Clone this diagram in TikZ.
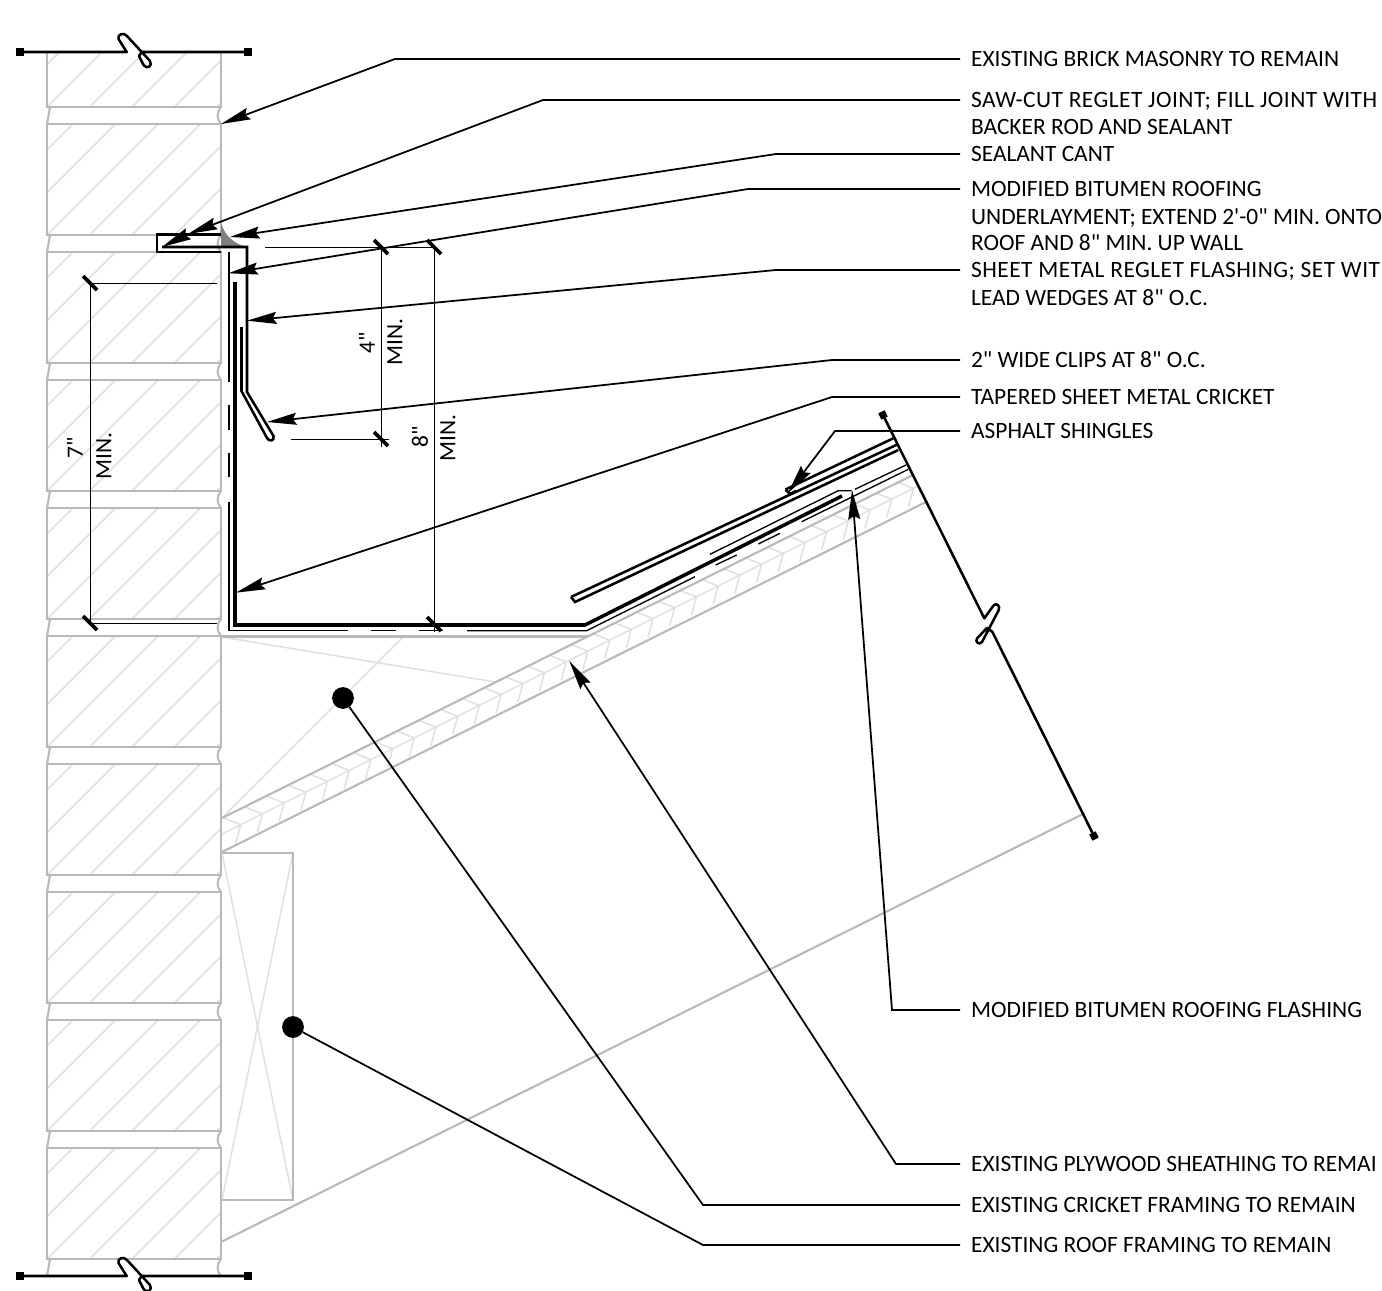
\documentclass[tikz,border=0pt]{standalone}
\usepackage{fontspec}
\newfontfamily\notefont{Carlito}
\newfontfamily\widefont[LetterSpace=2]{Carlito}
\usetikzlibrary{arrows.meta}
\definecolor{wallgrey}{HTML}{B9B9B9}
\definecolor{hatchgrey}{HTML}{E0E0E0}
\definecolor{sealgrey}{HTML}{808080}
\tikzset{
  callout/.style={anchor=west, inner xsep=15.6pt, inner ysep=0pt, text height=21pt, text depth=0pt,
    font=\notefont\fontsize{33.3}{35}\selectfont},
  widecallout/.style={callout, font=\widefont\fontsize{33.3}{35}\selectfont},
  dimtext/.style={rotate=90, inner sep=0pt, font=\notefont\fontsize{33.3}{35}\selectfont},
  leader/.style={line width=2.5pt, -{Stealth[length=42pt,width=17pt,inset=5pt]}},
  plainleader/.style={line width=2.5pt},
  wall/.style={wallgrey, line width=3pt},
  hatch/.style={hatchgrey, line width=2.2pt},
  dimline/.style={line width=1.4pt},
  dimtick/.style={line width=5.5pt},
  flash/.style={line width=3.6pt, line join=miter},
  heavy/.style={line width=5pt, line join=miter},
  thinline/.style={line width=1.9pt},
  breakline/.style={line width=3.6pt, line join=round},
  endmark/.style={fill=black, inner sep=0pt, minimum size=10pt},
  dot/.style={circle, fill=black, inner sep=0pt, minimum size=31pt}
}
\begin{document}
\begin{tikzpicture}[x=0.05cm, y=-0.05cm]
  \useasboundingbox (0,0) rectangle (1382,1291);
  \clip (0,0) rectangle (1382,1291);

  % Draw the brick courses
  \begin{scope}
    \clip (0,52) rectangle (300,1276);
    \foreach \b in {107,235,...,1259} {
      \begin{scope}
        \clip (47,\b-111) rectangle (221,\b);
        \foreach \k in {-3,...,4}
          \draw[hatch] ({47+42.5*\k},\b) -- ({247+42.5*\k},\b-200);
      \end{scope}
      \draw[wall] (47,\b-111) rectangle (221,\b);
      \draw[wall] (50,\b) -- (47,\b+17);
      \draw[wall] (221,\b) .. controls (216.5,\b+5) and (216.5,\b+12) .. (221,\b+17);
    }
  \end{scope}

  % Draw the cricket framing
  \draw[hatch] (222,637) -- (495,682);
  \draw[hatch] (403,637) -- (222,818);
  \draw[wall] (221,636.5) -- (588,636.5);

  % Draw the sheathing
  \begin{scope}
    \clip (222,818) -- (913,475) -- (926,502) -- (222,852) -- cycle;
    \draw[hatch] (935,477.5) -- (220,835);
    \foreach \k in {0,...,33}
      \draw[hatch] ({896.7-21.7*\k},{481.7+10.85*\k}) -- ({913.4-21.7*\k},{488.4+10.85*\k})
        -- ({908.4-21.7*\k},{506.7+10.85*\k});
  \end{scope}
  \draw[wall] (222,818) -- (913,475);
  \draw[wall] (222,852) -- (926,502);

  % Draw the roof framing and the block
  \draw[wall] (221,1242) -- (1085,813);
  \draw[hatch] (222,853) -- (293,1200);
  \draw[hatch] (293,853) -- (222,1200);
  \draw[wall] (221,853) -- (293,853) -- (293,1200) -- (221,1200);

  % Draw the sealant cant
  \fill[sealgrey] (221,223) .. controls (225,236) and (234,244) .. (247,247) -- (221,247) -- cycle;

  % Draw the reglet and the flashing
  \draw[flash] (221,234.5) -- (157,234.5) -- (157,252) -- (221,252);
  \draw[flash] (162,247) -- (247,247) -- (247,392) -- (273.5,436)
    .. controls (275,441) and (269,442) .. (267,438) -- (241.5,391) -- (241.5,327);

  % Draw the tapered cricket
  \draw[heavy] (235,282) -- (235,625) -- (585,625) -- (842,496);

  % Draw the underlayment
  \draw[thinline] (229,252) -- (229,381.7);
  \draw[thinline] (229,405) -- (229,430);
  \draw[thinline] (229,453) -- (229,477.3);
  \draw[thinline] (229,501.7) -- (229,630.7) -- (347.7,630.7);
  \draw[thinline] (371,630.7) -- (395.7,630.7);
  \draw[thinline] (419,630.7) -- (443,630.7);
  \draw[thinline] (467,630.7) -- (586.7,630.7) -- (695,576.7);
  \draw[thinline] (715.7,565) -- (736.7,555);
  \draw[thinline] (758.3,544) -- (780,533.3);
  \draw[thinline] (801.7,521.7) -- (908.3,469.3);
  \draw[thinline] (710,554.3) -- (838.3,490.7) -- (851.7,490.7);
  \draw[thinline] (855,489.3) -- (906,465);

  % Draw the shingles
  \draw[flash] (571,597) -- (575,602) -- (898.3,450);
  \draw[flash] (571,597) -- (897.7,444.3);
  \draw[flash] (785.5,489.5) -- (790,494) -- (796,491);
  \draw[flash] (785.5,489.5) -- (893.3,438.3);

  % Draw the break lines
  \foreach \y in {52,1276} {
    \node[endmark] (breakL\y) at (20,\y) {};
    \node[endmark] (breakR\y) at (248,\y) {};
    \draw[breakline] (breakL\y) -- (126.7,\y) -- (118.5,\y-13)
      .. controls (117,\y-18) and (124,\y-20) .. (127,\y-16) -- (150,\y+9)
      .. controls (153,\y+14) and (147,\y+18) .. (143.5,\y+13) -- (139,\y+4) -- (141.7,\y) -- (breakR\y);
  }
  \node[endmark, rotate=26] (breakA) at (883,415) {};
  \node[endmark, rotate=26] (breakB) at (1094,836) {};
  \draw[breakline] (breakA) -- (984.3,618.3) -- (993.5,605.5)
    .. controls (996,602) and (1001,606) .. (998.5,610.5) -- (982,642)
    .. controls (979.5,645.5) and (974.5,642) .. (977,638.5) -- (986.8,628) -- (992.3,631.7) -- (breakB);

  % Draw the dimensions
  \coordinate (sevenA) at (90,283);
  \coordinate (sevenB) at (90,623);
  \coordinate (fourA) at (381,247);
  \coordinate (fourB) at (381,439);
  \coordinate (eightA) at (434,247);
  \coordinate (eightB) at (434,624);
  \draw[dimline] (sevenA) -- (sevenB);
  \draw[dimline] (fourA) -- (381,447);
  \draw[dimline] (eightA) -- (434,632);
  \draw[dimline] (sevenA) -- (217,283);
  \draw[dimline] (sevenB) -- (217,623);
  \draw[dimline] (265,247) -- (eightA);
  \draw[dimline] (291,439) -- (389,439);
  \foreach \c in {sevenA,sevenB,fourA,fourB,eightA,eightB}
    \draw[dimtick] ([shift={(-7,-7)}]\c) -- ([shift={(7,7)}]\c);

  \node[dimtext] (sevenIn) at (75,448) {7"};
  \node[dimtext] (sevenMin) at (104,456) {MIN.};
  \node[dimtext] (fourIn) at (367,343) {4"};
  \node[dimtext] (fourMin) at (395,342) {MIN.};
  \node[dimtext] (eightIn) at (420,437) {8"};
  \node[dimtext] (eightMin) at (448,438) {MIN.};

  % Add labels
  \node[callout] (brick) at (960,59) {EXISTING BRICK MASONRY TO REMAIN};
  \node[widecallout] (saw) at (960,100) {SAW-CUT REGLET JOINT; FILL JOINT WITH};
  \node[callout] (sawB) at (960,127) {BACKER ROD AND SEALANT};
  \node[callout] (cant) at (960,154) {SEALANT CANT};
  \node[callout] (bitumen) at (960,189) {MODIFIED BITUMEN ROOFING};
  \node[callout] (bitumenB) at (960,217) {UNDERLAYMENT; EXTEND 2'-0" MIN. ONTO};
  \node[callout] (bitumenC) at (960,243) {ROOF AND 8" MIN. UP WALL};
  \node[widecallout] (reglet) at (960,270) {SHEET METAL REGLET FLASHING; SET WIT};
  \node[callout] (regletB) at (960,298) {LEAD WEDGES AT 8" O.C.};
  \node[callout] (clips) at (960,360) {2" WIDE CLIPS AT 8" O.C.};
  \node[callout] (tapered) at (960,397) {TAPERED SHEET METAL CRICKET};
  \node[callout] (shingles) at (960,431) {ASPHALT SHINGLES};
  \node[callout] (flashing) at (960,1010) {MODIFIED BITUMEN ROOFING FLASHING};
  \node[callout] (plywood) at (960,1164) {EXISTING PLYWOOD SHEATHING TO REMAI};
  \node[callout] (cricket) at (960,1205) {EXISTING CRICKET FRAMING TO REMAIN};
  \node[callout] (framing) at (960,1245) {EXISTING ROOF FRAMING TO REMAIN};

  % Draw the leaders
  \coordinate (brickTip) at (221,124);
  \coordinate (sawTip) at (188,234);
  \coordinate (sawEnd) at (162,247);
  \coordinate (cantTip) at (230,237);
  \coordinate (bitumenTip) at (228.3,273.3);
  \coordinate (regletTip) at (247,320.7);
  \coordinate (clipsTip) at (267,422);
  \coordinate (taperedTip) at (235.7,592.7);
  \coordinate (shinglesTip) at (788,493);
  \coordinate (flashingTip) at (852,490);
  \coordinate (plywoodTip) at (569.3,661);
  \node[dot] (cricketDot) at (343,698) {};
  \node[dot] (framingDot) at (293,1027) {};

  \draw[leader] (brick.west) -- (395,59) -- (brickTip);
  \draw[leader] (saw.west) -- (543,100) -- (sawTip);
  \draw[leader] (sawTip) -- (sawEnd);
  \draw[leader] (cant.west) -- (776,154) -- (cantTip);
  \draw[leader] (bitumen.west) -- (748,189) -- (bitumenTip);
  \draw[leader] (reglet.west) -- (776,270) -- (regletTip);
  \draw[leader] (clips.west) -- (832,360) -- (clipsTip);
  \draw[leader] (tapered.west) -- (832,397) -- (taperedTip);
  \draw[leader] (shingles.west) -- (835,431) -- (shinglesTip);
  \draw[leader] (flashing.west) -- (892,1010) -- (flashingTip);
  \draw[leader] (plywood.west) -- (896,1164) -- (plywoodTip);
  \draw[plainleader] (cricket.west) -- (703,1205) -- (cricketDot);
  \draw[plainleader] (framing.west) -- (703,1245) -- (framingDot);
\end{tikzpicture}
\end{document}
